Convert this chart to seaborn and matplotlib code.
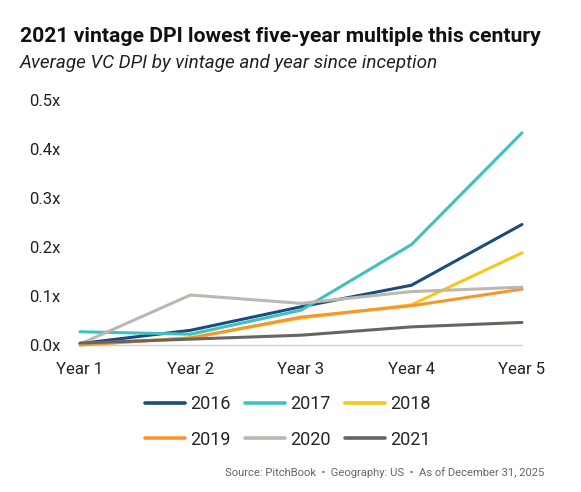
import matplotlib
matplotlib.use("Agg")
import matplotlib.pyplot as plt
import matplotlib.lines as mlines
import numpy as np
import pandas as pd
import seaborn as sns

years = ["Year 1", "Year 2", "Year 3", "Year 4", "Year 5"]
vintages = ["2016", "2017", "2018", "2019", "2020", "2021"]
dpi_2016 = [0.003, 0.030, 0.078, 0.122, 0.246]
dpi_2017 = [0.027, 0.022, 0.071, 0.205, 0.433]
dpi_2018 = [0.000, 0.015, 0.055, 0.082, 0.188]
dpi_2019 = [0.000, 0.014, 0.057, 0.080, 0.114]
dpi_2020 = [0.002, 0.102, 0.085, 0.109, 0.118]
dpi_2021 = [0.004, 0.012, 0.020, 0.037, 0.046]
colors = ["#1B4C7C", "#3EC1C1", "#F6C619", "#F7962F", "#BDB8AF", "#666560"]

series = [dpi_2016, dpi_2017, dpi_2018, dpi_2019, dpi_2020, dpi_2021]
rows = []
for v, vals in zip(vintages, series):
    for i, val in enumerate(vals):
        rows.append({"vintage": v, "x": i, "dpi": val})
df = pd.DataFrame(rows)

sns.set_theme(style="white")
plt.rcParams["font.family"] = ["Roboto", "DejaVu Sans"]

fig = plt.figure(figsize=(5.81, 4.92), dpi=100)
ax = fig.add_axes([80 / 581, 1 - 345 / 492, 442 / 581, 245 / 492])

ax.axhline(0, color="#d0d0d0", linewidth=1, zorder=1)
sns.lineplot(data=df, x="x", y="dpi", hue="vintage", palette=colors,
             linewidth=2.2, ax=ax, legend=False, zorder=3)
for line in ax.lines:
    line.set_clip_on(False)

ax.set_xlim(0, 4)
ax.set_ylim(0, 0.5)
ax.set_xticks(range(5))
ax.set_xticklabels(years, fontsize=12, color="#222222")
ax.set_yticks(np.arange(0, 0.51, 0.1))
ax.set_yticklabels([f"{t:.1f}x" for t in np.arange(0, 0.51, 0.1)],
                   fontsize=12, color="#222222")
ax.tick_params(axis="x", length=0, pad=12)
ax.tick_params(axis="y", length=0, pad=14)
ax.set_xlabel("")
ax.set_ylabel("")
sns.despine(ax=ax, left=True, bottom=True)

# legend reads row by row, matplotlib fills by column
handles = [mlines.Line2D([], [], color=c, linewidth=2.6) for c in colors]
order = [0, 3, 1, 4, 2, 5]
fig.legend([handles[i] for i in order], [vintages[i] for i in order],
           loc="center", bbox_to_anchor=(288 / 581, 1 - 422 / 492),
           ncol=3, frameon=False, fontsize=13, handlelength=2.2,
           columnspacing=0.8, handletextpad=0.3, labelspacing=0.95)

fig.text(20 / 581, 1 - 37 / 492, "2021 vintage DPI lowest five-year multiple this century",
         fontsize=15.2, fontweight="bold", color="#111111", va="center", ha="left")
fig.text(20 / 581, 1 - 63 / 492, "Average VC DPI by vintage and year since inception",
         fontsize=13.6, style="italic", color="#222222", va="center", ha="left")
fig.text(544 / 581, 1 - 473 / 492,
         "Source: PitchBook  \u2022  Geography: US  \u2022  As of December 31, 2025",
         fontsize=8.1, color="#666666", va="center", ha="right")

fig.savefig("out.png", dpi=100)
